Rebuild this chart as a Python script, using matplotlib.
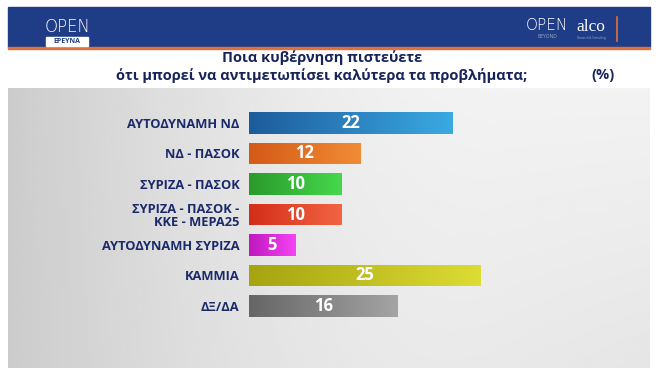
import numpy as np
import matplotlib
matplotlib.use("Agg")
import matplotlib.pyplot as plt
from matplotlib.patches import Rectangle

plt.rcParams['font.family'] = ['Open Sans', 'DejaVu Sans']

# Datos
categorias = ["ΑΥΤΟΔΥΝΑΜΗ ΝΔ", "ΝΔ - ΠΑΣΟΚ", "ΣΥΡΙΖΑ - ΠΑΣΟΚ",
              "ΣΥΡΙΖΑ - ΠΑΣΟΚ -\nΚΚΕ - ΜΕΡΑ25", "ΑΥΤΟΔΥΝΑΜΗ ΣΥΡΙΖΑ",
              "ΚΑΜΜΙΑ", "ΔΞ/ΔΑ"]
valores = [22, 12, 10, 10, 5, 25, 16]
colores = [("#1d5c9c", "#3aa9e2"), ("#d45a18", "#f08c34"),
           ("#2a9a2c", "#46d84c"), ("#d42e18", "#f26442"),
           ("#c018c0", "#f444f4"), ("#a6a410", "#dcdc34"),
           ("#666666", "#a4a4a4")]
titulo = "Ποια κυβέρνηση πιστεύετε\nότι μπορεί να αντιμετωπίσει καλύτερα τα προβλήματα;"

W, H = 664, 376
fig = plt.figure(figsize=(W / 100, H / 100), dpi=100)
fig.patch.set_facecolor("white")

# Fondo y cabecera (coordenadas en pixeles)
bg = fig.add_axes([0, 0, 1, 1])
bg.set_xlim(0, W)
bg.set_ylim(H, 0)
bg.axis("off")
bg.add_patch(Rectangle((8, 7), 642, 40, color="#1f3d86", zorder=1))
bg.add_patch(Rectangle((8, 47), 642, 2, color="#e0703a", zorder=1))

gx = np.linspace(0, 1, 200)
gy = np.linspace(0, 1, 100)
X, Y = np.meshgrid(gx, gy)
grad = 0.80 + 0.15 * np.sin(np.clip(X * 1.3, 0, 1) * np.pi / 2) - 0.05 * Y * X
bg.imshow(grad, cmap="gray", vmin=0, vmax=1, extent=(8, 650, 368, 88),
          aspect="auto", zorder=0)

# Logos
bg.text(68, 27, "OPEN", color="white", fontsize=12, ha="center", va="center",
        fontweight="light", family="DejaVu Sans")
bg.add_patch(Rectangle((46, 37), 42, 9, color="white", zorder=2))
bg.text(67, 41.5, "ΕΡΕΥΝΑ", color="#1f3d86", fontsize=5, ha="center", va="center",
        fontweight="bold", zorder=3)
bg.text(547, 26, "OPEN", color="white", fontsize=11, ha="center", va="center",
        fontweight="light", family="DejaVu Sans")
bg.text(547, 37, "BEYOND", color="#9fb0d0", fontsize=3.5, ha="center", va="center")
bg.text(591, 27, "alco", color="white", fontsize=12.5, ha="center", va="center",
        family="Liberation Serif")
bg.text(591, 38, "Research & Consulting", color="#9fb0d0", fontsize=2, ha="center", va="center")
bg.plot([617, 617], [17, 41], color="#e0703a", lw=1.2)

# Titulo
bg.text(322, 67, titulo, ha="center", va="center", fontsize=10.5,
        fontweight="bold", color="#17245a", linespacing=1.25)
bg.text(603, 75, "(%)", ha="center", va="center", fontsize=10.5,
        fontweight="bold", color="#17245a")

# Barras
escala = 9.27  # pixeles por unidad
xmax = 30
paso = 30.5
top = 123 - paso / 2
ax = fig.add_axes([249 / W, 1 - (top + 7 * paso) / H, xmax * escala / W, 7 * paso / H])
ax.patch.set_alpha(0)
for s in ax.spines.values():
    s.set_visible(False)
ax.set_xticks([])

pos = np.arange(len(categorias))
barras = ax.barh(pos, valores, height=0.72, color="none")
for i, (b, v, (c1, c2)) in enumerate(zip(barras, valores, colores)):
    cmap = matplotlib.colors.LinearSegmentedColormap.from_list("g", [c1, c2])
    im = ax.imshow(np.linspace(0, 1, 100).reshape(1, -1), cmap=cmap, aspect="auto",
                   extent=(0, v, i + 0.36, i - 0.36), zorder=2)
    im.set_clip_path(b)
    ax.text(v / 2, i, str(v), ha="center", va="center", color="white",
            fontsize=12, fontweight="bold", zorder=3)
ax.set_xlim(0, xmax)
ax.set_ylim(6.5, -0.5)

ax.set_yticks(pos)
ax.set_yticklabels(categorias, fontsize=9.3, fontweight="bold", color="#1b2a6a",
                   ha="right", linespacing=1.0)
ax.tick_params(axis="y", length=0, pad=7)

fig.savefig("out.png", dpi=100)
